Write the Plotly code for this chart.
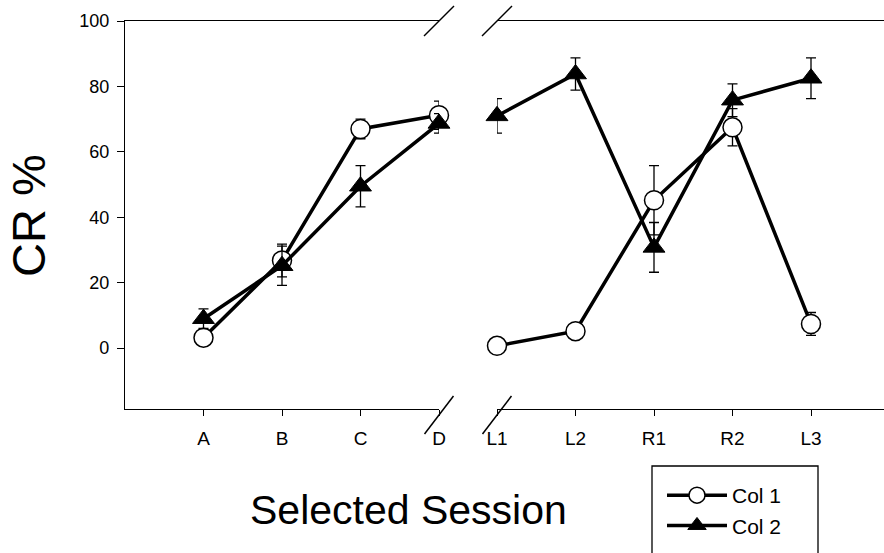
import plotly.graph_objects as go

# ---- data ----
cats_left = ["A", "B", "C", "D"]
cats_right = ["L1", "L2", "R1", "R2", "L3"]

col1_left = [3.2, 26.8, 67.0, 71.2]
col1_left_err = [1.6, 5.0, 3.0, 4.3]
col1_right = [0.7, 5.2, 45.2, 67.5, 7.4]
col1_right_err = [0.5, 0.7, 10.6, 5.7, 3.5]

col2_left = [9.0, 25.2, 49.5, 68.7]
col2_left_err = [3.0, 6.0, 6.3, 3.0]
col2_right = [71.0, 83.8, 30.8, 75.8, 82.5]
col2_right_err = [5.3, 4.9, 7.6, 5.0, 6.2]

y_ticks = [0, 20, 40, 60, 80, 100]
y_range = [-18.6, 100]

FONT = "Liberation Sans, Arial, sans-serif"
W, H = 884, 553
ML, MR, MT, MB = 125, 0, 21, 144

fig = go.Figure()

common_line = dict(color="black", width=3.5)
err_style = dict(type="data", visible=True, color="black", thickness=1.3, width=5)
circ_marker = dict(symbol="circle", size=19, color="white", line=dict(color="black", width=1.5))
tri_marker = dict(symbol="triangle-up", size=19, color="black", line=dict(color="black", width=1))

fig.add_trace(go.Scatter(x=cats_left, y=col1_left, mode="lines+markers", name="Col 1",
                         legendgroup="c1", showlegend=True, line=common_line, marker=circ_marker,
                         error_y=dict(array=col1_left_err, **err_style), cliponaxis=False,
                         xaxis="x", yaxis="y"))
fig.add_trace(go.Scatter(x=cats_right, y=col1_right, mode="lines+markers", name="Col 1",
                         legendgroup="c1", showlegend=False, line=common_line, marker=circ_marker,
                         error_y=dict(array=col1_right_err, **err_style), cliponaxis=False,
                         xaxis="x2", yaxis="y"))
fig.add_trace(go.Scatter(x=cats_left, y=col2_left, mode="lines+markers", name="Col 2",
                         legendgroup="c2", showlegend=True, line=common_line, marker=tri_marker,
                         error_y=dict(array=col2_left_err, **err_style), cliponaxis=False,
                         xaxis="x", yaxis="y"))
fig.add_trace(go.Scatter(x=cats_right, y=col2_right, mode="lines+markers", name="Col 2",
                         legendgroup="c2", showlegend=False, line=common_line, marker=tri_marker,
                         error_y=dict(array=col2_right_err, **err_style), cliponaxis=False,
                         xaxis="x2", yaxis="y"))

plot_w = W - ML - MR
plot_h = H - MT - MB
left_end = (439 - ML) / plot_w
right_start = (497 - ML) / plot_w
px_per_unit = (439 - 203.5) / 3.0
right_max = (W - 497) / px_per_unit

xaxis_common = dict(type="category", showline=True, linecolor="black", linewidth=1.3, mirror=True,
                    ticks="outside", ticklen=6, tickwidth=1, tickcolor="black",
                    showgrid=False, zeroline=False, ticklabelstandoff=6,
                    tickfont=dict(family=FONT, size=19, color="black"))

def px_x(p):
    return (p - ML) / plot_w

def px_y(p):
    return (H - MB - p) / plot_h

fig.update_layout(
    width=W, height=H,
    margin=dict(l=ML, r=MR, t=MT, b=MB, autoexpand=False),
    paper_bgcolor="white", plot_bgcolor="white",
    font=dict(family=FONT, color="black"),
    xaxis=dict(domain=[0, left_end], range=[-1, 3], anchor="y", **xaxis_common),
    xaxis2=dict(domain=[right_start, 1], range=[0, right_max], anchor="y", **xaxis_common),
    yaxis=dict(range=y_range, tickvals=y_ticks, showline=True, linecolor="black", linewidth=1.3,
               ticks="outside", ticklen=7, tickwidth=1, tickcolor="black", showgrid=False,
               zeroline=False, ticklabelstandoff=4,
               tickfont=dict(family=FONT, size=18, color="black")),
    showlegend=True,
    legend=dict(x=px_x(662), y=px_y(475), xanchor="left", yanchor="top",
                borderwidth=0, bgcolor="rgba(0,0,0,0)",
                font=dict(family=FONT, size=21, color="black"), itemwidth=60,
                tracegroupgap=0),
    annotations=[
        dict(text="CR %", x=px_x(28), y=px_y(216), xref="paper", yref="paper",
             xanchor="center", yanchor="middle", textangle=-90, showarrow=False,
             font=dict(family=FONT, size=47, color="black")),
        dict(text="Selected Session", x=px_x(408.5), y=px_y(510),
             xref="paper", yref="paper", xanchor="center", yanchor="middle", showarrow=False,
             font=dict(family=FONT, size=41, color="black")),
    ],
)

shapes = []
# legend frame (extends past the bottom edge as in the reference)
shapes.append(dict(type="rect", xref="paper", yref="paper", x0=px_x(652), x1=px_x(818),
                   y0=px_y(570), y1=px_y(466), line=dict(color="black", width=1.3),
                   fillcolor="rgba(0,0,0,0)", layer="below"))
# axis-break slashes
for xref, xa in (("x domain", 1), ("x2 domain", 0)):
    shapes.append(dict(type="line", xref=xref, yref="y domain", xsizemode="pixel", ysizemode="pixel",
                       xanchor=xa, yanchor=1, x0=-15, x1=15, y0=-15, y1=15,
                       line=dict(color="black", width=1.5)))
    shapes.append(dict(type="line", xref=xref, yref="y domain", xsizemode="pixel", ysizemode="pixel",
                       xanchor=xa, yanchor=0, x0=-14.5, x1=14.5, y0=-25, y1=13,
                       line=dict(color="black", width=1.5)))
fig.update_layout(shapes=shapes)

fig.write_html("out.html", config={"displayModeBar": False},
               post_script="document.body.style.margin='0';")
